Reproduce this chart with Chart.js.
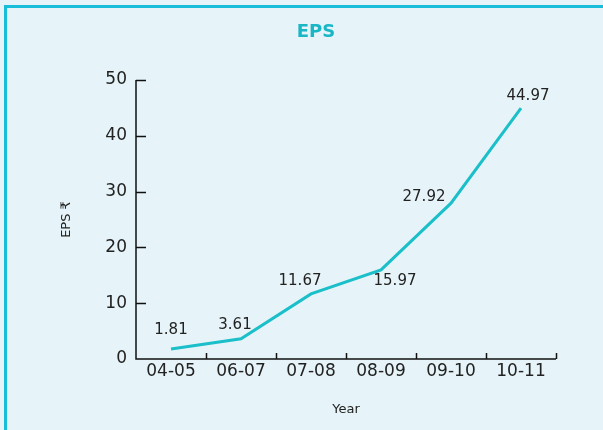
<!DOCTYPE html>
<html>
<head>
<meta charset="utf-8">
<script src="https://cdn.jsdelivr.net/npm/chart.js@4/dist/chart.umd.min.js"></script>
<style>
  html, body { margin: 0; padding: 0; background: #e6f4f9; }
  #wrap { position: relative; width: 603px; height: 430px; overflow: hidden; }
  #frame { position: absolute; left: 4px; top: 5px; width: 700px; height: 500px;
           border-top: 3px solid #17bdd9; border-left: 3px solid #17bdd9; }
  #chart-eps { position: absolute; left: 0; top: 0; }
</style>
</head>
<body>
<div id="wrap">
  <div id="frame"></div>
  <canvas id="chart-eps" width="603" height="430"></canvas>
</div>
<script>
const anos = ['04-05', '06-07', '07-08', '08-09', '09-10', '10-11'];
const valoresEps = [1.81, 3.61, 11.67, 15.97, 27.92, 44.97];
const ticksY = [0, 10, 20, 30, 40, 50];

// where each value label sits, relative to its point
const deslocLabels = [[0, -19], [-6, -14], [-11, -13], [14, 11], [-27, -6], [7, -12]];

const corLinha = '#1bbfc9';
const corTexto = '#222';
const fonte = '"DejaVu Sans", "Noto Sans", sans-serif';

const canvasEps = document.getElementById('chart-eps');

// title, inward ticks, axis lines and value labels
const extras = {
    id: 'extras',
    afterDraw(chart) {
        const { ctx, chartArea, scales } = chart;
        const x = scales.x;
        const y = scales.y;
        ctx.save();
        ctx.strokeStyle = '#111';
        ctx.lineWidth = 1.5;
        ctx.beginPath();
        ctx.moveTo(chartArea.left, chartArea.top);
        ctx.lineTo(chartArea.left, chartArea.bottom);
        ctx.lineTo(chartArea.right, chartArea.bottom);
        ctx.stroke();
        ticksY.forEach(v => {
            if (v === 0) return;
            const py = Math.round(y.getPixelForValue(v)) + 0.5;
            ctx.beginPath();
            ctx.moveTo(chartArea.left, py);
            ctx.lineTo(chartArea.left + 10, py);
            ctx.stroke();
        });
        for (let i = 1; i <= anos.length; i++) {
            const px = Math.round(x.getPixelForTick(i - 1) + (x.getPixelForTick(1) - x.getPixelForTick(0)) / 2) + 0.5;
            ctx.beginPath();
            ctx.moveTo(px, chartArea.bottom);
            ctx.lineTo(px, chartArea.bottom - 6);
            ctx.stroke();
        }

        ctx.fillStyle = corTexto;
        ctx.font = '15px ' + fonte;
        ctx.textAlign = 'center';
        ctx.textBaseline = 'middle';
        const meta = chart.getDatasetMeta(0);
        meta.data.forEach((pt, i) => {
            ctx.fillText(valoresEps[i].toFixed(2), pt.x + deslocLabels[i][0], pt.y + deslocLabels[i][1]);
        });

        ctx.fillStyle = '#19b6c6';
        ctx.font = 'bold 18px ' + fonte;
        ctx.fillText('EPS', 316, 32);
        ctx.restore();
    }
};

const graficoEps = new Chart(canvasEps, {
    type: 'line',
    data: {
        labels: anos,
        datasets: [{
            label: 'EPS',
            data: valoresEps,
            borderColor: corLinha,
            borderWidth: 3,
            pointRadius: 0,
            tension: 0,
            fill: false
        }]
    },
    options: {
        responsive: false,
        animation: false,
        layout: { padding: { left: 55, right: 47, top: 80, bottom: 9 } },
        plugins: {
            legend: { display: false },
            title: { display: false },
            tooltip: { enabled: false }
        },
        scales: {
            x: {
                offset: true,
                grid: { display: false, drawTicks: false },
                border: { display: false },
                ticks: { color: corTexto, padding: 2, font: { family: fonte, size: 17 } },
                title: {
                    display: true,
                    text: 'Year',
                    color: corTexto,
                    padding: { top: 18, bottom: 4 },
                    font: { family: fonte, size: 13 }
                }
            },
            y: {
                min: 0,
                max: 50,
                afterFit(scale) { scale.width = 81; },
                afterBuildTicks(scale) { scale.ticks = ticksY.map(v => ({ value: v })); },
                grid: { display: false, drawTicks: false },
                border: { display: false },
                ticks: { color: corTexto, padding: 9, font: { family: fonte, size: 17 } },
                title: {
                    display: true,
                    text: 'EPS ₹',
                    color: corTexto,
                    padding: { top: 4, bottom: 4 },
                    font: { family: fonte, size: 13 }
                }
            }
        }
    },
    plugins: [extras]
});
</script>
</body>
</html>
